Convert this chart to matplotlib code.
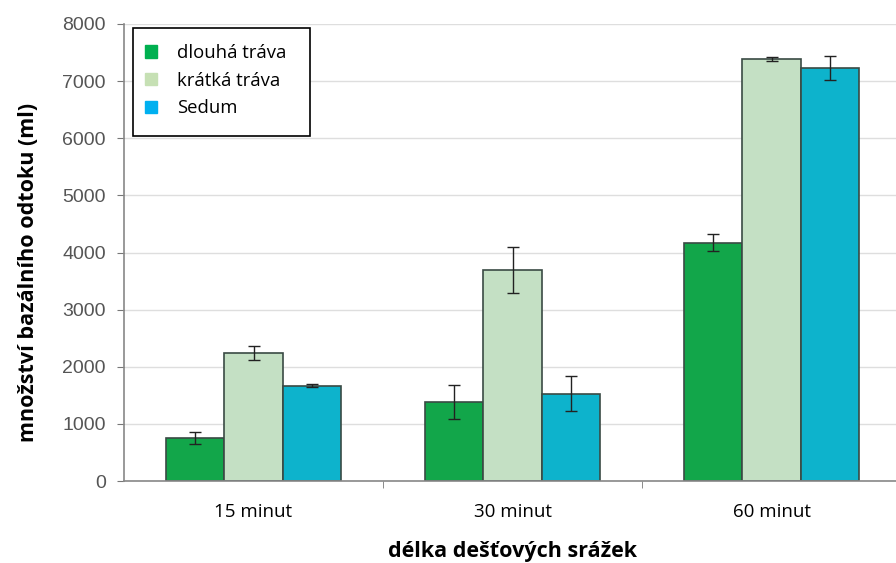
import matplotlib
matplotlib.use("Agg")
import matplotlib.pyplot as plt
import numpy as np

# Rain duration categories and runoff series (ml)
categories = ["15 minut", "30 minut", "60 minut"]
series_names = ["dlouhá tráva", "krátká tráva", "Sedum"]
long_grass = [750, 1380, 4170]
short_grass = [2240, 3690, 7390]
sedum = [1670, 1530, 7230]
long_grass_err = [100, 300, 150]
short_grass_err = [120, 400, 40]
sedum_err = [30, 300, 210]

bar_colors = ["#12a64a", "#c4e0c4", "#0db3cc"]
legend_colors = ["#00b050", "#c6e0b4", "#00b0f0"]

plt.rcParams["font.family"] = ["Open Sans", "DejaVu Sans"]

fig = plt.figure(figsize=(8.96, 5.63), dpi=100)
ax = fig.add_axes([124 / 896, 82 / 563, 777 / 896, 457 / 563])

x = np.arange(len(categories))
width = 0.224
values = [long_grass, short_grass, sedum]
errors = [long_grass_err, short_grass_err, sedum_err]
for i, (vals, errs) in enumerate(zip(values, errors)):
    ax.bar(x + (i - 1) * width, vals, width, color=bar_colors[i],
           edgecolor="#3a4a44", linewidth=1.2, zorder=2)
    ax.errorbar(x + (i - 1) * width, vals, yerr=errs, fmt="none",
                ecolor="#222222", elinewidth=1, capsize=4, capthick=1, zorder=3)

ax.set_xlim(-0.5, 2.5)
ax.set_ylim(0, 8000)
ax.set_yticks(range(0, 8001, 1000))
ax.set_yticklabels([str(v) for v in range(0, 8001, 1000)],
                   family="Liberation Sans", fontsize=14, color="#555555")
ax.set_xticks(x)
ax.set_xticklabels(categories, fontsize=13.5)
ax.set_xticks([0.5, 1.5], minor=True)
ax.tick_params(axis="x", which="major", length=0, pad=16)
ax.tick_params(axis="x", which="minor", length=5, color="#777777")
ax.tick_params(axis="y", length=5, color="#777777", pad=8)

ax.grid(axis="y", color="#dedede", linewidth=1, zorder=0)
ax.set_axisbelow(True)
for side in ["top", "right"]:
    ax.spines[side].set_visible(False)
for side in ["left", "bottom"]:
    ax.spines[side].set_color("#888888")
    ax.spines[side].set_linewidth(1.2)

ax.set_ylabel("množství bazálního odtoku (ml)", fontsize=15.5, fontweight="bold")
ax.yaxis.set_label_coords(-0.109, 0.457)
ax.set_xlabel("délka dešťových srážek", fontsize=15.5, fontweight="bold", labelpad=14)

# Legend entries without the default frame; the box is drawn separately
handles = [plt.Rectangle((0, 0), 1, 1, color=c) for c in legend_colors]
leg = ax.legend(handles, series_names, loc="upper left",
                bbox_to_anchor=(21 / 777, (481 - 44) / 457), borderaxespad=0,
                borderpad=0, fontsize=13.3, frameon=False,
                handlelength=0.65, handleheight=0.65, handletextpad=1.1,
                labelspacing=0.52)
leg.set_zorder(5)
box = plt.Rectangle((9 / 777, (481 - 136) / 457), 177 / 777, 108 / 457,
                    transform=ax.transAxes, facecolor="white",
                    edgecolor="black", linewidth=1.2, zorder=4)
ax.add_patch(box)

fig.savefig("out.png", dpi=100)
